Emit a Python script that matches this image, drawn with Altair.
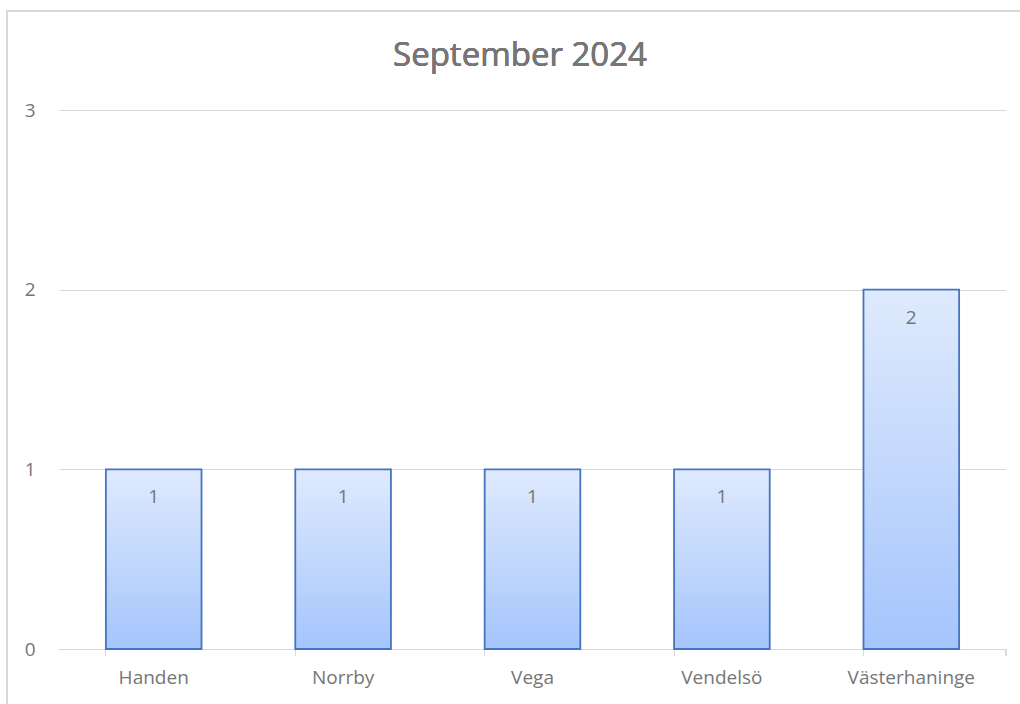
import altair as alt
import pandas as pd

categories = ["Handen", "Norrby", "Vega", "Vendelsö", "Västerhaninge"]
values = [1, 1, 1, 1, 2]
y_ticks = [0, 1, 2, 3]
title_text = "September 2024"

df = pd.DataFrame({"cat": categories, "val": values})

W, H = 947, 539
FONT = "Open Sans"
GREY = "#767676"

grad = alt.Gradient(
    gradient="linear",
    stops=[alt.GradientStop(color="#dfeafd", offset=0),
           alt.GradientStop(color="#a5c5fc", offset=1)],
    x1=0, x2=0, y1=0, y2=1,
)

x_enc = alt.X("cat:N", sort=categories, title=None,
              scale=alt.Scale(paddingInner=0.495, paddingOuter=0.2475),
              axis=alt.Axis(labelAngle=0, labelFont=FONT, labelFontSize=19,
                            labelFontWeight="normal",
                            labelColor=GREY, labelPadding=12,
                            domainColor="#d9d9d9", tickColor="#d9d9d9",
                            tickSize=7, bandPosition=0, grid=False))
y_enc = alt.Y("val:Q", title=None,
              scale=alt.Scale(domain=[0, 3], nice=False),
              axis=alt.Axis(values=y_ticks, labelFont=FONT, labelFontSize=19,
                            labelFontWeight="normal",
                            labelColor=GREY, labelPadding=24, domain=False,
                            ticks=False, gridColor="#d9d9d9", format="d"))

bars = alt.Chart(df).mark_bar(fill=grad, stroke="#4574c0", strokeWidth=1.8).encode(
    x=x_enc, y=y_enc)

labels = alt.Chart(df).mark_text(font=FONT, fontSize=19, fontWeight="normal",
                                 color=GREY, baseline="middle", dy=28).encode(
    x=alt.X("cat:N", sort=categories), y="val:Q", text="val:Q")

right_tick = alt.Chart(df).mark_rule(color="#d9d9d9").encode(
    x=alt.value(W), y=alt.value(H), y2=alt.value(H + 7))

border = alt.Chart(df).mark_rect(fill=None, stroke="#d9d9d9", strokeWidth=1.5).encode(
    x=alt.value(-52), x2=alt.value(W + 80), y=alt.value(-99), y2=alt.value(H + 100))

title = alt.Chart(df).mark_text(font=FONT, fontSize=33, fontWeight="normal",
                                color=GREY, baseline="middle", align="center").encode(
    x=alt.value(461), y=alt.value(-54), text=alt.value(title_text))

chart = alt.layer(border, bars, labels, right_tick, title).properties(
    width=W, height=H,
    background="white",
    autosize=alt.AutoSizeParams(type="none"),
    padding={"left": 59, "top": 110, "right": 14, "bottom": 55},
).configure_view(strokeWidth=0, stroke="transparent")

chart.save("out.html", embed_options={"renderer": "svg", "actions": False})
